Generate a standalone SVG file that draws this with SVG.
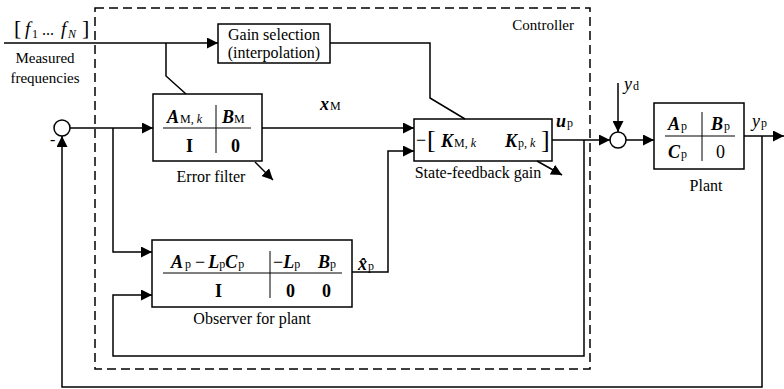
<svg xmlns="http://www.w3.org/2000/svg" width="784" height="389" viewBox="0 0 784 389" font-family="'Liberation Serif', 'Times New Roman', 'DejaVu Serif', serif">
<style>
text{font-family:'Liberation Serif','Times New Roman','DejaVu Serif',serif;fill:#000}
.lbl{font-size:16px}
.m{font-size:18px;font-weight:bold;font-style:italic}
.mu{font-size:18px;font-weight:bold;font-style:normal}
.s{font-size:12px;font-weight:normal;font-style:normal}
.si{font-size:12px;font-weight:normal;font-style:italic}
.box{fill:#fff;stroke:#000;stroke-width:1.5}
.ln{fill:none;stroke:#000;stroke-width:1.5}
.thin{fill:none;stroke:#000;stroke-width:1}
.dash{fill:none;stroke:#000;stroke-width:1.5;stroke-dasharray:9,5}
</style>
<defs>
<marker id="ah" viewBox="0 0 10 10" refX="10" refY="5" markerWidth="11" markerHeight="11" markerUnits="userSpaceOnUse" orient="auto">
<path d="M0,0 L10,5 L0,10 z" fill="#000"/>
</marker>
</defs>
<rect width="784" height="389" fill="#fff"/>

<g id="controller">
<rect x="95" y="8" width="495" height="361" class="dash"/>
<text x="574" y="30" font-size="15" text-anchor="end">Controller</text>
</g>

<g id="input-label">
<text x="14" y="35" font-size="22">[</text>
<text x="25" y="35" font-size="19" font-style="italic">f</text>
<text x="32" y="38" font-size="12">1</text>
<text x="42" y="35" font-size="16">...</text>
<text x="61" y="35" font-size="19" font-style="italic">f</text>
<text x="68" y="38" font-size="12" font-style="italic">N</text>
<text x="82" y="35" font-size="22">]</text>
<text x="45" y="63" font-size="15" text-anchor="middle">Measured</text>
<text x="45" y="83" font-size="15" text-anchor="middle">frequencies</text>
</g>

<g id="gain-selection">
<rect x="218" y="24" width="112" height="39" class="box"/>
<text x="274" y="40" font-size="16" text-anchor="middle">Gain selection</text>
<text x="274" y="58" font-size="16" text-anchor="middle">(interpolation)</text>
</g>

<g id="sum-left">
<circle cx="62" cy="128" r="8" class="box"/>
<text x="50" y="145" font-size="16">-</text>
</g>

<g id="error-filter">
<rect x="153" y="94" width="109" height="67" class="box"/>
<line x1="163" y1="128" x2="251" y2="128" class="thin"/>
<line x1="216" y1="105" x2="216" y2="153" class="thin"/>
<text x="167" y="123" class="m">A<tspan class="s" dx="1">M, </tspan><tspan class="si">k</tspan></text>
<text x="222" y="123" class="m">B<tspan class="s">M</tspan></text>
<text x="186" y="152" class="mu">I</text>
<text x="231" y="152" class="mu">0</text>
<text x="211" y="182" class="lbl" text-anchor="middle">Error filter</text>
</g>

<g id="state-feedback">
<rect x="414" y="119" width="138" height="42" class="box"/>
<text x="416" y="146" font-size="18">−</text>
<text x="427" y="148" font-size="26">[</text>
<text x="441" y="147" class="m">K<tspan class="s" dx="1">M, </tspan><tspan class="si">k</tspan></text>
<text x="505" y="147" class="m">K<tspan class="s" dx="1">p, </tspan><tspan class="si">k</tspan></text>
<text x="541" y="148" font-size="26">]</text>
<text x="478" y="178" class="lbl" text-anchor="middle">State-feedback gain</text>
</g>

<g id="observer">
<rect x="152" y="240" width="200" height="67" class="box"/>
<line x1="163" y1="273" x2="342" y2="273" class="thin"/>
<line x1="270" y1="251" x2="270" y2="298" class="thin"/>
<text x="171" y="268" class="m">A<tspan class="s" dx="2">p</tspan><tspan dx="4" font-weight="normal" font-style="normal">−</tspan><tspan dx="3">L</tspan><tspan class="s">p</tspan><tspan>C</tspan><tspan class="s" dx="1">p</tspan></text>
<text x="273" y="268" class="m"><tspan font-weight="normal" font-style="normal">−</tspan>L<tspan class="s">p</tspan></text>
<text x="318" y="268" class="m">B<tspan class="s">p</tspan></text>
<text x="215" y="297" class="mu">I</text>
<text x="286" y="297" class="mu">0</text>
<text x="322" y="297" class="mu">0</text>
<text x="252" y="324" class="lbl" text-anchor="middle">Observer for plant</text>
</g>

<g id="sum-right">
<circle cx="618" cy="140" r="8" class="box"/>
</g>

<g id="plant">
<rect x="654" y="103" width="90" height="66" class="box"/>
<line x1="665" y1="136" x2="735" y2="136" class="thin"/>
<line x1="702" y1="112" x2="702" y2="161" class="thin"/>
<text x="668" y="130" class="m">A<tspan class="s" dx="1">p</tspan></text>
<text x="711" y="130" class="m">B<tspan class="s" dx="1">p</tspan></text>
<text x="668" y="158" class="m">C<tspan class="s" dx="1">p</tspan></text>
<text x="716" y="158" font-size="18">0</text>
<text x="706" y="191" class="lbl" text-anchor="middle">Plant</text>
</g>

<g id="connectors">
<line x1="4" y1="43" x2="218" y2="43" class="ln" marker-end="url(#ah)"/>
<polyline points="166,43 166,76 186,94" class="ln"/>
<polyline points="330,43 430,43 430,98 465,119" class="ln"/>
<line x1="70" y1="128" x2="153" y2="128" class="ln" marker-end="url(#ah)"/>
<polyline points="113,128 113,252 152,252" class="ln" marker-end="url(#ah)"/>
<line x1="262" y1="128" x2="414" y2="128" class="ln" marker-end="url(#ah)"/>
<line x1="255" y1="162" x2="273" y2="180" class="ln" marker-end="url(#ah)"/>
<line x1="537" y1="161" x2="562" y2="175" class="ln" marker-end="url(#ah)"/>
<polyline points="352,272 388,272 388,151 414,151" class="ln" marker-end="url(#ah)"/>
<line x1="552" y1="140" x2="610" y2="140" class="ln" marker-end="url(#ah)"/>
<polyline points="584,140 584,356 113,356 113,295 152,295" class="ln" marker-end="url(#ah)"/>
<line x1="618" y1="83" x2="618" y2="132" class="ln" marker-end="url(#ah)"/>
<line x1="626" y1="140" x2="654" y2="140" class="ln" marker-end="url(#ah)"/>
<line x1="744" y1="136" x2="784" y2="136" class="ln" marker-end="url(#ah)"/>
<polyline points="762,136 762,387 62,387 62,136" class="ln" marker-end="url(#ah)"/>
<text x="320" y="110" class="m">x<tspan class="s" dx="1">M</tspan></text>
<text x="556" y="127" class="m">u<tspan class="s" dx="1">p</tspan></text>
<text x="624" y="90" font-size="18" font-style="italic">y<tspan class="s" dx="1">d</tspan></text>
<text x="752" y="127" font-size="18" font-style="italic">y<tspan class="s" dx="1">p</tspan></text>
<text x="358" y="270" class="m">x&#x302;<tspan class="s" dx="1">p</tspan></text>
</g>
</svg>
